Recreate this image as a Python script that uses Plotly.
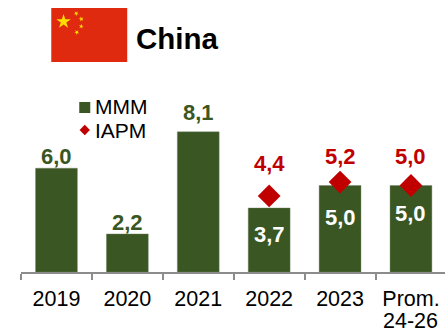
import math
import plotly.graph_objects as go

# Data
categories = ["2019", "2020", "2021", "2022", "2023", "Prom."]
mmm_values = [6.0, 2.2, 8.1, 3.7, 5.0, 5.0]
iapm_categories = ["2022", "2023", "Prom."]
iapm_values = [4.4, 5.2, 5.0]
mmm_labels = ["6,0", "2,2", "8,1", "3,7", "5,0", "5,0"]
iapm_labels = ["4,4", "5,2", "5,0"]

# Layout constants
W, H = 445, 329
LEFT, BOTTOM_PX = 20.7, 272
GREEN = "#3A5622"
RED = "#C00000"
GREY = "#8C8C8C"
FONT = "Liberation Sans, Arial, sans-serif"
UNIT_PX = 17.3

# Vertical label offsets from the top of each mark, in pixels
mmm_shift = [12, 11, 19, -27, -32, -28]
iapm_shift = [32, 26, 29]


def px(x):
    return (x - LEFT) / (W - LEFT)


def py(y):
    return 1 - y / BOTTOM_PX


def star_path(cx, cy, r, rot=0.0):
    pts = []
    for i in range(10):
        rad = r if i % 2 == 0 else r * 0.38
        a = -math.pi / 2 + rot + i * math.pi / 5
        pts.append((px(cx + rad * math.cos(a)), py(cy + rad * math.sin(a))))
    return "M" + " L".join(f"{a:.5f},{b:.5f}" for a, b in pts) + " Z"


fig = go.Figure()
fig.add_bar(
    x=categories, y=mmm_values, name="MMM", width=0.59,
    marker=dict(color=GREEN, line=dict(color="#6F8060", width=0.4)),
    showlegend=False,
)
fig.add_scatter(
    x=iapm_categories, y=iapm_values, name="IAPM", mode="markers",
    marker=dict(symbol="diamond", size=17.5, color=RED),
    cliponaxis=False, showlegend=False,
)

annotations = []
for i, (val, lab, shift) in enumerate(zip(mmm_values, mmm_labels, mmm_shift)):
    annotations.append(dict(
        x=i, y=val, text=f"<b>{lab}</b>", yshift=shift, showarrow=False,
        xanchor="center", yanchor="middle",
        font=dict(family=FONT, size=22, color="white" if shift < 0 else GREEN),
    ))
for cat, val, lab, shift in zip(iapm_categories, iapm_values, iapm_labels, iapm_shift):
    annotations.append(dict(
        x=categories.index(cat), y=val, text=f"<b>{lab}</b>", yshift=shift, showarrow=False,
        xanchor="center", yanchor="middle",
        font=dict(family=FONT, size=22, color=RED),
    ))


def page_text(x, y, text, size, anchor="left", color="black"):
    annotations.append(dict(
        xref="paper", yref="paper", x=px(x), y=py(y), text=text,
        showarrow=False, xanchor=anchor, yanchor="middle",
        font=dict(family=FONT, size=size, color=color),
    ))


page_text(134, 39, "<b>China</b>", 29.5)
page_text(93, 107, "MMM", 21)
page_text(93, 130, "IAPM", 21)
page_text(410.5, 321, "24-26", 21.5, anchor="center")

shapes = [
    # Flag field
    dict(type="rect", xref="paper", yref="paper", x0=px(51), x1=px(127),
         y0=py(62), y1=py(8), fillcolor="#DF2A10", line_width=0, layer="above"),
]
flag_stars = [(63.3, 21.5, 7.6, 0.0), (76, 13.5, 2.6, 0.6), (81, 19, 2.6, 1.0),
              (81, 26.3, 2.6, 0.2), (76.5, 32.3, 2.6, 0.7)]
for cx, cy, r, rot in flag_stars:
    shapes.append(dict(type="path", xref="paper", yref="paper",
                       path=star_path(cx, cy, r, rot), fillcolor="#FFDE00",
                       line_width=0, layer="above"))
# Legend swatches
shapes.append(dict(type="rect", xref="paper", yref="paper", x0=px(79), x1=px(90),
                   y0=py(113), y1=py(102), fillcolor=GREEN, line_width=0, layer="above"))
dcx, dcy, dr = 84.5, 130, 5.2
shapes.append(dict(type="path", xref="paper", yref="paper",
                   path=f"M{px(dcx-dr)},{py(dcy)} L{px(dcx)},{py(dcy-dr)} "
                        f"L{px(dcx+dr)},{py(dcy)} L{px(dcx)},{py(dcy+dr)} Z",
                   fillcolor=RED, line_width=0, layer="above"))

fig.update_layout(
    width=W, height=H, autosize=False,
    margin=dict(l=LEFT, r=0, t=0, b=H - BOTTOM_PX, pad=0),
    paper_bgcolor="white", plot_bgcolor="white",
    annotations=annotations, shapes=shapes,
    xaxis=dict(
        type="category", categoryorder="array", categoryarray=categories,
        range=[-0.5, 5.48], showgrid=False, zeroline=False,
        showline=True, linecolor=GREY, linewidth=1.5,
        ticks="outside", ticklen=6, tickwidth=1.5, tickcolor=GREY,
        tickson="boundaries", ticklabelstandoff=6,
        tickfont=dict(family=FONT, size=21.5, color="black"),
    ),
    yaxis=dict(range=[0, BOTTOM_PX / UNIT_PX], visible=False, fixedrange=True),
)

fig.write_html("out.html", config=dict(displayModeBar=False))
